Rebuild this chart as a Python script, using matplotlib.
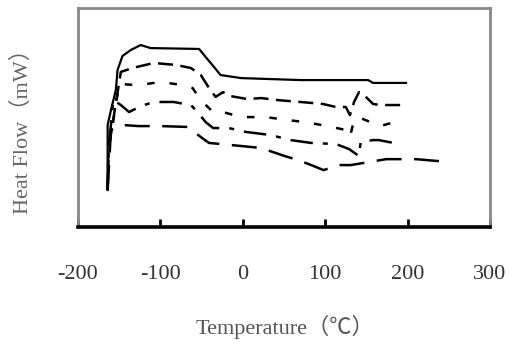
import matplotlib
matplotlib.use("Agg")
import matplotlib.pyplot as plt

# DSC curves, heat flow in arbitrary units (no y scale on the original)
t1 = [-164, -164, -160, -157, -154, -152, -146, -136, -124, -112, -53, -45, -35, -27, -2, 70, 152, 158, 198]
h1 = [16.9, 46.6, 53.4, 58.0, 62.6, 71.7, 78.1, 80.8, 83.1, 81.7, 81.3, 77.6, 73.1, 69.4, 68.0, 67.1, 67.1, 65.8, 65.8]

t2 = [-164, -163, -148, -134, -108, -81, -63, -51, -41, -33, -24, -15, 6, 22, 44, 70, 97, 113, 125, 130, 135, 141, 147, 158, 167, 195]
h2 = [16.9, 35.2, 70.8, 72.6, 74.9, 74.0, 72.6, 69.4, 63.5, 59.4, 61.6, 59.8, 58.4, 58.9, 57.9, 57.1, 56.2, 54.8, 54.8, 51.1, 57.1, 61.6, 60.3, 56.2, 55.7, 55.7]

t3 = [-164, -163, -150, -127, -100, -72, -61, -51, -36, -24, -2, 28, 53, 76, 103, 125, 130, 135, 140, 155, 167, 180, 195]
h3 = [16.9, 35.2, 65.3, 64.8, 66.2, 64.8, 63.5, 57.9, 52.5, 52.5, 50.2, 50.2, 48.9, 47.9, 46.1, 44.3, 41.1, 48.9, 50.2, 47.9, 46.1, 47.5, 46.6]

t4 = [-164, -163, -157, -148, -138, -124, -108, -84, -63, -55, -45, -36, -17, 4, 34, 58, 83, 113, 129, 141, 143, 158, 165, 183]
h4 = [16.9, 35.2, 58.0, 55.7, 52.5, 55.2, 57.1, 57.1, 55.7, 52.5, 47.9, 45.2, 45.2, 43.4, 42.0, 39.7, 38.4, 37.9, 35.6, 32.4, 38.8, 39.7, 39.7, 38.4]

t5 = [-164, -160, -146, -127, -100, -67, -51, -41, -27, -2, 22, 51, 67, 83, 98, 117, 131, 174, 210, 238]
h5 = [16.9, 44.3, 46.6, 46.1, 46.1, 45.7, 41.1, 38.4, 37.9, 37.0, 36.1, 32.4, 30.6, 28.3, 26.0, 28.3, 28.3, 31.0, 31.0, 30.1]

xticks = [-200, -100, 0, 100, 200, 300]

fig = plt.figure(figsize=(5.11, 3.43), dpi=100)
ax = fig.add_axes([0.1526, 0.338, 0.8064, 0.6387])

ax.plot(t1, h1, color="black", lw=1.6)
ax.plot(t2, h2, color="black", lw=1.8, dashes=(6, 3))
ax.plot(t3, h3, color="black", lw=1.8, dashes=(3, 6))
ax.plot(t4, h4, color="black", lw=1.8, dashes=(9, 4, 2, 4))
ax.plot(t5, h5, color="black", lw=1.8, dashes=(10, 5))

ax.set_xlim(-200, 300)
ax.set_ylim(0, 100)
ax.set_xticks(xticks)
ax.set_xticklabels([str(v) for v in xticks], fontfamily="Liberation Serif", fontsize=16, color="#333333")
ax.set_yticks([])
ax.tick_params(axis="x", direction="in", length=6, width=2, pad=27)

for side in ["top", "left", "right"]:
    ax.spines[side].set_color("#888888")
    ax.spines[side].set_linewidth(2)
ax.spines["bottom"].set_color("black")
ax.spines["bottom"].set_linewidth(2.6)

fig.text(0.558, 1 - 327 / 343, "Temperature（℃）", ha="center", va="center", fontsize=16,
         family=["Liberation Serif", "Noto Sans CJK SC"], color="#555555")
fig.text(22 / 511, 1 - 126 / 343, "Heat Flow（mW）", ha="center", va="center", fontsize=16,
         rotation=90, family=["Liberation Serif", "Noto Sans CJK SC"], color="#666666")

fig.savefig("out.png", dpi=100)
